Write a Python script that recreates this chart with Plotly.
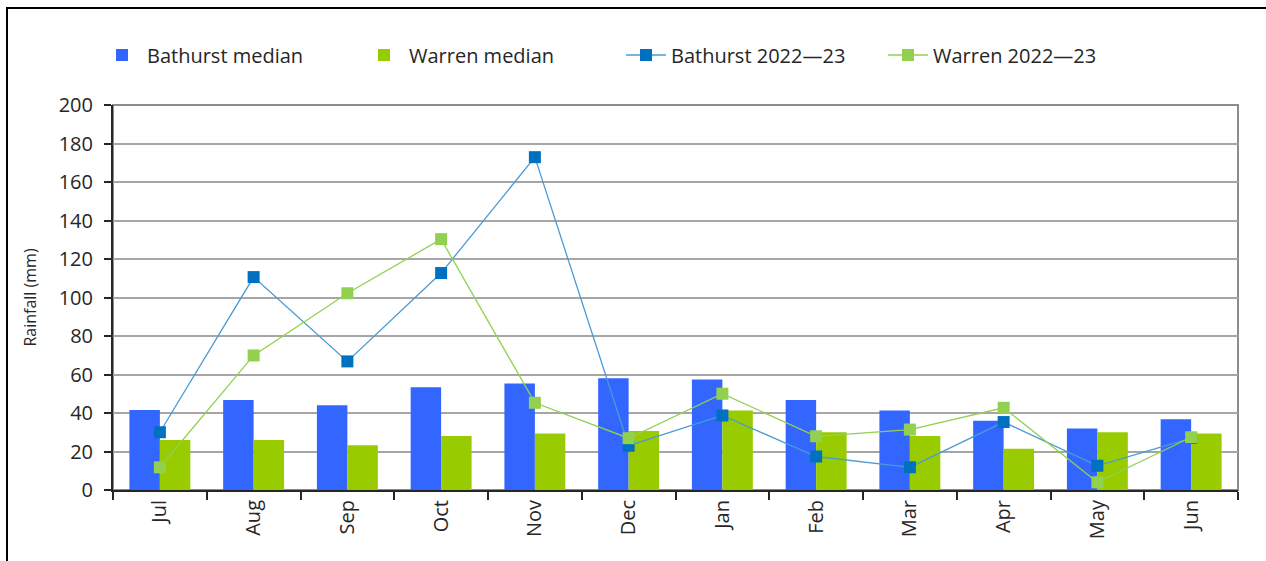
import plotly.graph_objects as go

months = ["Jul", "Aug", "Sep", "Oct", "Nov", "Dec", "Jan", "Feb", "Mar", "Apr", "May", "Jun"]
bathurst_median = [41.5, 46.8, 44.0, 53.4, 55.3, 58.1, 57.4, 46.8, 41.3, 36.0, 32.0, 36.7]
warren_median = [26.0, 26.0, 23.3, 28.0, 29.3, 30.7, 41.3, 30.0, 28.0, 21.4, 30.0, 29.3]
bathurst_2223 = [30.0, 110.6, 66.8, 112.7, 172.9, 23.0, 38.7, 17.4, 11.8, 35.3, 12.6, 27.0]
warren_2223 = [11.8, 69.9, 102.2, 130.3, 45.3, 26.9, 50.0, 27.9, 31.4, 42.7, 4.0, 27.4]

FONT = "Open Sans"
TXT = "#262626"

fig = go.Figure()
fig.add_trace(go.Bar(name="Bathurst median", x=months, y=bathurst_median,
                     marker=dict(color="#3366FF", line=dict(width=0))))
fig.add_trace(go.Bar(name="Warren median", x=months, y=warren_median,
                     marker=dict(color="#99CC00", line=dict(width=0))))
fig.add_trace(go.Scatter(name="Bathurst 2022\u201423", x=months, y=bathurst_2223, mode="lines+markers",
                         line=dict(color="#4A9BD4", width=1.3),
                         marker=dict(symbol="square", size=12, color="#0070C0")))
fig.add_trace(go.Scatter(name="Warren 2022\u201423", x=months, y=warren_2223, mode="lines+markers",
                         line=dict(color="#92D050", width=1.3),
                         marker=dict(symbol="square", size=12, color="#92D050")))

L, R, T, B = 113, 28, 105, 71
W, H = 1266, 561
pw, ph = W - L - R, H - T - B

def px_x(px):
    return (px - L) / pw

def px_y(py):
    return (H - B - py) / ph

fig.update_layout(
    width=W, height=H,
    margin=dict(l=L, r=R, t=T, b=B, autoexpand=False),
    paper_bgcolor="white", plot_bgcolor="white",
    font=dict(family=FONT, size=20, color=TXT),
    barmode="group", bargap=0.35, bargroupgap=0,
    showlegend=True,
    legend=dict(orientation="h", x=px_x(97), xanchor="left", y=px_y(55), yanchor="middle",
                entrywidth=207, entrywidthmode="pixels", itemwidth=40,
                font=dict(family=FONT, size=20, color=TXT), bgcolor="rgba(0,0,0,0)",
                traceorder="normal"),
    xaxis=dict(type="category", range=[-0.5, 11.5], tickangle=-90, tickson="boundaries",
               ticks="outside", ticklen=8,
               tickcolor="#262626", tickwidth=1.5, showline=True, linecolor="#262626", linewidth=2,
               showgrid=False, tickfont=dict(family=FONT, size=20, color=TXT)),
    yaxis=dict(range=[0, 200], dtick=20, ticks="outside", ticklen=7, tickcolor="#262626", tickwidth=1.5,
               showline=True, linecolor="#262626", linewidth=2, ticklabelstandoff=7,
               showgrid=True, gridcolor="#A6A6A6", gridwidth=1.5, zeroline=False,
               tickfont=dict(family=FONT, size=20, color=TXT),
               title=dict(text="Rainfall (mm)", standoff=18, font=dict(family=FONT, size=16, color=TXT))),
    shapes=[
        dict(type="rect", xref="paper", yref="paper", x0=0, x1=1, y0=0, y1=1,
             line=dict(color="#8C8C8C", width=2), layer="below"),
        dict(type="rect", xref="paper", yref="paper", x0=px_x(7), x1=px_x(1275), y0=px_y(570), y1=px_y(8),
             line=dict(color="black", width=2), layer="above"),
    ],
)

fig.write_html("out.html", config={"displayModeBar": False},
               post_script="document.body.style.margin='0px';document.body.style.padding='0px';")
